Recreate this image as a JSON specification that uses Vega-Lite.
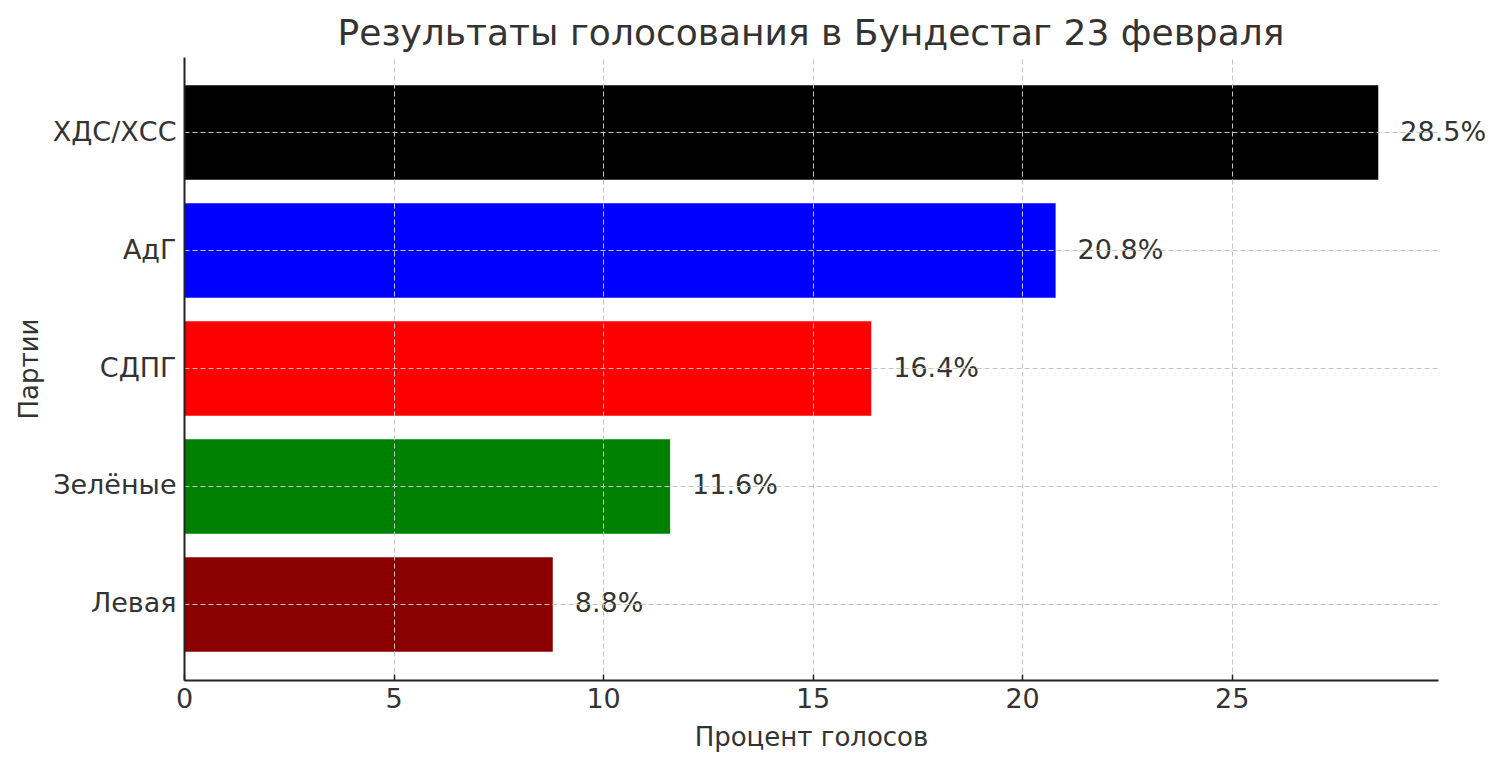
{
  "$schema": "https://vega.github.io/schema/vega-lite/v6.json",
  "autosize": {"type": "none"},
  "width": 1254,
  "height": 623,
  "padding": {"left": 184, "top": 57, "right": 62, "bottom": 86},
  "background": "white",
  "config": {
    "font": "DejaVu Sans",
    "view": {"stroke": null},
    "axis": {"labelFont": "DejaVu Sans", "titleFont": "DejaVu Sans"}
  },
  "title": {
    "text": "Результаты голосования в Бундестаг 23 февраля",
    "font": "DejaVu Sans",
    "fontSize": 36,
    "fontWeight": "normal",
    "color": "#333333",
    "anchor": "middle",
    "offset": 4
  },
  "data": {
    "values": [
      {"party": "ХДС/ХСС", "pct": 28.5, "label": "28.5%"},
      {"party": "АдГ", "pct": 20.8, "label": "20.8%"},
      {"party": "СДПГ", "pct": 16.4, "label": "16.4%"},
      {"party": "Зелёные", "pct": 11.6, "label": "11.6%"},
      {"party": "Левая", "pct": 8.8, "label": "8.8%"}
    ]
  },
  "encoding": {
    "y": {
      "field": "party",
      "type": "nominal",
      "sort": ["ХДС/ХСС", "АдГ", "СДПГ", "Зелёные", "Левая"],
      "scale": {"paddingInner": 0.2, "paddingOuter": 0.24},
      "axis": {
        "title": "Партии",
        "titleFontSize": 26,
        "titleFontWeight": "normal",
        "titleColor": "#333333",
        "titlePadding": 10,
        "labelFontSize": 27,
        "labelColor": "#333333",
        "labelPadding": 8,
        "bandPosition": 0.5,
        "grid": true,
        "gridColor": "#c4c4c4",
        "gridDash": [5, 3],
        "gridWidth": 1,
        "domainColor": "#222222",
        "domainWidth": 2,
        "ticks": false,
        "zindex": 1
      }
    },
    "x": {
      "field": "pct",
      "type": "quantitative",
      "scale": {"domain": [0, 29.925], "nice": false, "zero": true},
      "axis": {
        "title": "Процент голосов",
        "titleFontSize": 26,
        "titleFontWeight": "normal",
        "titleColor": "#333333",
        "titlePadding": 12,
        "labelFontSize": 27,
        "labelColor": "#333333",
        "labelPadding": 12,
        "labelFlush": false,
        "values": [0, 5, 10, 15, 20, 25],
        "grid": true,
        "gridColor": "#c4c4c4",
        "gridDash": [5, 3],
        "gridWidth": 1,
        "domainColor": "#222222",
        "domainWidth": 2,
        "tickColor": "#222222",
        "tickSize": -6,
        "tickWidth": 1.5,
        "zindex": 1
      }
    }
  },
  "layer": [
    {
      "mark": {"type": "bar"},
      "encoding": {
        "color": {
          "field": "party",
          "type": "nominal",
          "scale": {
            "domain": ["ХДС/ХСС", "АдГ", "СДПГ", "Зелёные", "Левая"],
            "range": ["#000000", "#0000ff", "#ff0000", "#008000", "#8b0000"]
          },
          "legend": null
        }
      }
    },
    {
      "mark": {"type": "text", "align": "left", "baseline": "middle", "dx": 22, "fontSize": 27, "color": "#333333", "font": "DejaVu Sans"},
      "encoding": {"text": {"field": "label"}}
    }
  ]
}
